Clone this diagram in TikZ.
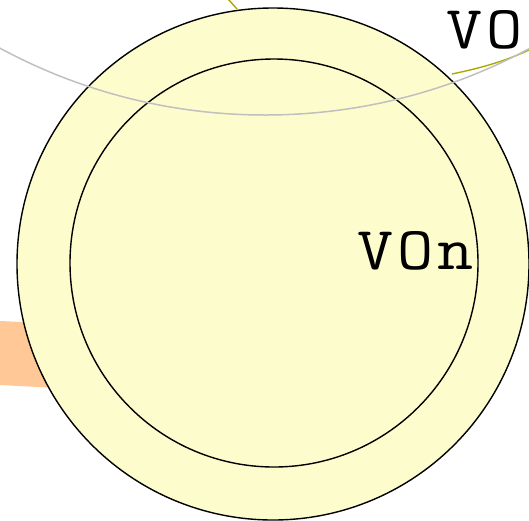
\documentclass[tikz,border=0pt]{standalone}
\usepackage{fontspec}
\usepackage{tikz}

\newfontfamily\monoreg[LetterSpace=6]{Latin Modern Mono}

\definecolor{nodefill}{RGB}{253,252,204}
\definecolor{bandorange}{RGB}{255,200,150}
\definecolor{edgeolive}{RGB}{170,170,0}
\definecolor{arcgray}{RGB}{192,192,192}

\tikzset{
  ring/.style={circle, draw=black, line width=1.4pt, inner sep=0pt},
  lbl/.style={font=\fontsize{61}{61}\selectfont\monoreg, inner sep=0pt, anchor=base west}
}
\newcommand{\widetext}[1]{\scalebox{1.15}[1]{#1}}

\begin{document}
\begin{tikzpicture}[x=1pt,y=-1pt]
            \useasboundingbox (0,0) rectangle (529,520);
            \clip (0,0) rectangle (529,520);

            %siroky pas vlavo
            \draw[bandorange, line width=64pt] (-20,352) -- (120,359);

            %hrany k uzlu
            \coordinate (hore) at (220,-10);
            \coordinate (vpravo) at (545,42);
            \draw[edgeolive, line width=1.4pt] (237,9) -- (hore);
            \draw[edgeolive, line width=1.4pt] (452,74) .. controls (490,66) and (515,58) .. (vpravo);

            %uzol
            \node[ring, fill=nodefill, minimum size=512pt] (von) at (273,264) {};
            \node[ring, minimum size=408pt] (vnutro) at (274,263) {};
            \node[lbl] (vontext) at (357,269) {\widetext{VOn}};
            \node[lbl] (votext) at (446,48) {\widetext{VO}};

            %siva kruznica navrchu
            \draw[arcgray, line width=1.5pt] (265,-443) circle (558);
\end{tikzpicture}
\end{document}
